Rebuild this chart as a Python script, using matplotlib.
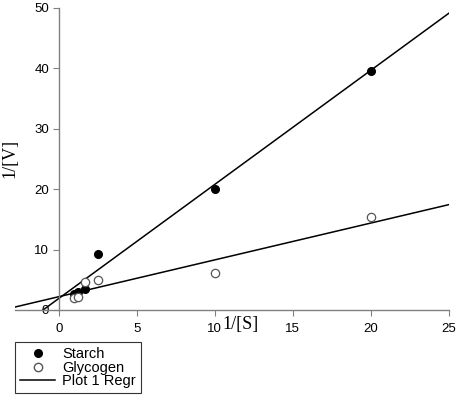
import numpy as np
import matplotlib
matplotlib.use("Agg")
import matplotlib.pyplot as plt
from matplotlib.lines import Line2D

# data
inv_s = [1.0, 1.25, 1.67, 2.5, 10, 20]
starch = [2.6, 2.9, 3.4, 9.2, 20.0, 39.5]
glycogen = [2.0, 2.1, 4.7, 4.9, 6.1, 15.4]

# regression lines (slope, intercept, x start, x end)
starch_fit = (1.89, 1.9, -1.0, 25)
glycogen_fit = (0.61, 2.2, -2.8, 25)

xticks = [0, 5, 10, 15, 20, 25]
yticks = [0, 10, 20, 30, 40, 50]

plt.rcParams['font.family'] = ['Liberation Sans', 'DejaVu Sans']

fig = plt.figure(figsize=(4.57, 3.96), dpi=100)
ax = fig.add_axes([15 / 457, 86 / 396, 434 / 457, 302 / 396])

for slope, icpt, x0, x1 in (starch_fit, glycogen_fit):
    xs = np.array([x0, x1])
    ax.plot(xs, slope * xs + icpt, color='black', lw=1.1, zorder=2)

ax.plot(inv_s, starch, 'o', color='black', ms=5.5, zorder=3, label='Starch')
ax.plot(inv_s, glycogen, 'o', mfc='white', mec='#555555', mew=0.9, ms=6,
        zorder=3, label='Glycogen')

ax.set_xlim(-2.8, 25)
ax.set_ylim(0, 50)
ax.set_xticks(xticks)
ax.set_yticks(yticks)

ax.spines['left'].set_position(('data', 0))
ax.spines['top'].set_visible(False)
ax.spines['right'].set_visible(False)
for s in ('left', 'bottom'):
    ax.spines[s].set_color('#808080')
    ax.spines[s].set_linewidth(1.0)
ax.tick_params(direction='out', length=4, width=0.8, color='#808080',
               labelsize=9.5)
ax.tick_params(axis='x', pad=5)
ax.tick_params(axis='y', pad=3)

fig.text(10 / 457, 1 - 158 / 396, '1/[V]', rotation=90,
         ha='center', va='center', fontsize=13, family='Liberation Serif')
fig.text(241 / 457, 1 - 325 / 396, '1/[S]', ha='center', va='center',
         fontsize=13, family='Liberation Serif')

handles = [
    Line2D([], [], marker='o', ls='none', color='black', ms=5.5),
    Line2D([], [], marker='o', ls='none', mfc='white', mec='#555555', ms=6),
    Line2D([], [], color='black', lw=1.1),
]
leg = fig.legend(handles, ['Starch', 'Glycogen', 'Plot 1 Regr'],
                 loc='lower left', bbox_to_anchor=(15 / 457, 3 / 396),
                 fontsize=10.5, frameon=True, fancybox=False,
                 handlelength=2.4, handletextpad=0.5, labelspacing=-0.05,
                 borderpad=0.35, borderaxespad=0)
leg.get_frame().set_edgecolor('black')
leg.get_frame().set_linewidth(0.8)

fig.savefig('out.png', dpi=100)
